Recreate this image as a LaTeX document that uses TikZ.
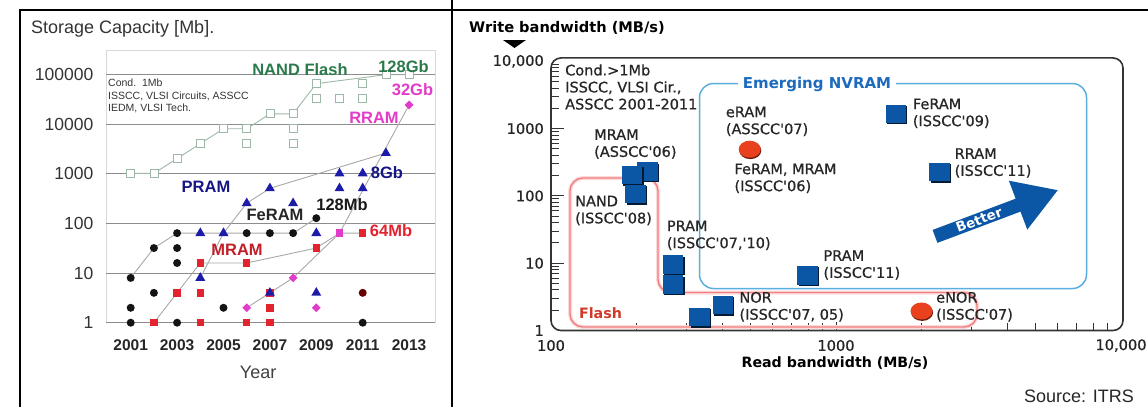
\documentclass[tikz,border=0pt]{standalone}
\usepackage{fontspec}
\newfontfamily\lsans{Liberation Sans}
\newfontfamily\dsans{DejaVu Sans}
\newfontfamily\dmed[FakeBold=0.7]{DejaVu Sans}
\usetikzlibrary{shapes.geometric, shadows, arrows.meta}

\definecolor{nandgreen}{HTML}{2B7A4B}
\definecolor{nandbox}{HTML}{9DB8A7}
\definecolor{trendgray}{HTML}{A8A8A8}
\definecolor{mramred}{HTML}{E3232E}
\definecolor{pramblue}{HTML}{1C1CA8}
\definecolor{rrampink}{HTML}{E23BC8}
\definecolor{gridgray}{HTML}{8C8C8C}
\definecolor{cellblue}{HTML}{0B57A6}
\definecolor{dotred}{HTML}{E9411E}
\definecolor{flashline}{HTML}{F07F80}
\definecolor{flashhalo}{HTML}{FCDADA}
\definecolor{nvramline}{HTML}{5BAEE0}
\definecolor{nvramtext}{HTML}{1D6BBF}
\definecolor{flashtext}{HTML}{CF3A2A}

\newcommand{\fsz}[2]{\fontsize{#1}{#2}\selectfont}
\newcommand{\sq}{\textquotesingle}

\tikzset{
  nand sq/.style={rectangle, draw=nandbox, fill=white, line width=0.8pt, minimum size=8pt, inner sep=0pt},
  feram dot/.style={circle, fill=black!92, minimum size=8pt, inner sep=0pt},
  mram sq/.style={rectangle, fill=mramred, minimum size=7.5pt, inner sep=0pt},
  pram tri/.style={regular polygon, regular polygon sides=3, fill=pramblue, minimum size=11.5pt, inner sep=0pt},
  rram dia/.style={diamond, fill=rrampink, minimum size=9pt, inner sep=0pt},
  tag/.style={inner sep=0pt, font=\lsans\bfseries\fsz{16.5}{19}},
  cell sq/.style={rectangle, fill=cellblue, minimum width=20.5pt, minimum height=18.5pt, inner sep=0pt,
    drop shadow={shadow xshift=1.4pt, shadow yshift=-1.4pt, fill=black!70!cellblue, opacity=1}},
  cell dot/.style={ellipse, fill=dotred, minimum width=22pt, minimum height=17pt, inner sep=0pt,
    drop shadow={shadow xshift=0.6pt, shadow yshift=-1.4pt, fill=dotred!45!black, opacity=1}},
  chip/.style={anchor=west, align=left, inner sep=0pt, text=black!85, font=\dmed\fsz{14.5}{17}},
  tick/.style={black!80, line width=1pt},
}

\begin{document}
\begin{tikzpicture}[x=1pt, y=-1pt]
  \useasboundingbox (0,0) rectangle (1148,407);

  % table rules
  \begin{scope}[line width=1.3pt]
    \draw (20,407) -- (20,10) -- (1148,10);
    \draw (452,0) -- (452,407);
  \end{scope}

  %% left panel: capacity per year
  \node[anchor=west, inner sep=0pt, text=black!80, font=\lsans\fsz{18}{20}] (captitle) at (31,29) {Storage Capacity [Mb].};

  \begin{scope}[shift={(130.7,322.7)}, x=23.2pt, y=49.6pt]
    \def\xL{-1.06}
    \def\xR{13.12}

    \draw[black!15, line width=0.8pt] (\xL,0) rectangle (\xR,5.5);
    \foreach \d in {0,...,5}
      \draw[gridgray, line width=1.1pt] (\xL,\d) -- (\xR,\d);

    \foreach \d/\val in {0/1, 1/10, 2/100, 3/1000, 4/10000, 5/100000}
      \node[anchor=east, inner sep=0pt, text=black!80, font=\lsans\fsz{17.5}{20}] (ylab\d) at (-1.6,\d) {\val};
    \foreach \i in {0,2,...,12}
      \node[inner sep=0pt, text=black!85, font=\lsans\bfseries\fsz{15.5}{18}] (xlab\i) at (\i,-0.45) {\the\numexpr2001+\i\relax};
    \node[inner sep=0pt, text=black!75, font=\lsans\fsz{18}{20}] (yearlab) at (5.49,-1.0) {Year};

    % trend lines
    \draw[nandbox, line width=0.9pt] (0,3.01) -- (1,3.01) -- (2,3.31) -- (3,3.61) -- (4,3.91) -- (5,3.91)
      -- (6,4.21) -- (7,4.21) -- (8,4.82) -- (11,5) -- (12,5);
    \begin{scope}[trendgray, line width=0.9pt]
      \draw (0,0.903) -- (1,1.505) -- (2,1.806) -- (7,1.806) -- (8,2.107);
      \draw (1,0) -- (2,0.602) -- (3,1.204) -- (5,1.204) -- (8,1.505) -- (9,1.806) -- (10,1.806);
      \draw (3,0.903) -- (4,1.806) -- (5,2.408) -- (6,2.709) -- (11,3.42);
      \draw (5,0.301) -- (7,0.903) -- (9,1.806) -- (12,4.39);
    \end{scope}

    % data points
    \foreach \i/\d [count=\n] in {0/3.01, 1/3.01, 2/3.31, 3/3.61, 4/3.91, 5/3.91, 5/3.61, 6/4.21, 7/4.21,
        7/3.91, 7/3.61, 8/4.82, 8/4.52, 9/4.52, 10/4.82, 10/4.52, 11/5, 12/5}
      \node[nand sq] (nand\n) at (\i,\d) {};
    \foreach \i/\d [count=\n] in {0/0, 0/0.301, 0/0.903, 1/0.602, 1/1.505, 2/0, 2/1.204, 2/1.505, 2/1.806,
        4/0.301, 5/1.806, 6/1.806, 7/1.806, 8/2.107, 10/0}
      \node[feram dot] (fe\n) at (\i,\d) {};
    \node[feram dot, fill=black!60!red] (fe16) at (10,0.602) {};
    \foreach \i/\d [count=\n] in {1/0, 2/0.602, 3/0, 3/0.602, 3/1.204, 5/0, 5/1.204, 6/0, 6/0.301, 6/0.602,
        8/1.505, 10/1.806}
      \node[mram sq] (mr\n) at (\i,\d) {};
    \foreach \i/\d [count=\n] in {3/0.903, 3/1.806, 4/1.806, 5/2.408, 6/2.709, 6/0.602, 7/2.408, 8/1.806,
        8/0.602, 9/2.709, 9/3.01, 10/2.709, 10/3.01, 11/3.42}
      \node[pram tri] (pr\n) at (\i,\d) {};
    \foreach \i/\d [count=\n] in {5/0.301, 7/0.903, 8/0.301, 12/4.39}
      \node[rram dia] (rr\n) at (\i,\d) {};
    \node[mram sq, fill=rrampink] (rr5) at (9,1.806) {};
  \end{scope}

  \node[anchor=north west, align=left, inner sep=0pt, text=black!80, font=\lsans\fsz{10.5}{11.5}]
    (cond) at (108,79) {Cond.~~1Mb\\[1.5pt]ISSCC, VLSI Circuits, ASSCC\\IEDM, VLSI Tech.};

  \node[tag, text=nandgreen] (nandtag) at (300,70) {NAND Flash};
  \node[tag, text=nandgreen] (gb128) at (403.5,67) {128Gb};
  \node[tag, text=rrampink] (gb32) at (412.5,90) {32Gb};
  \node[tag, text=rrampink] (rramtag) at (374,118) {RRAM};
  \node[tag, text=pramblue!80!black] (gb8) at (387,173) {8Gb};
  \node[tag, text=pramblue!80!black] (pramtag) at (206,187) {PRAM};
  \node[tag, text=black!85] (feramtag) at (275,215) {FeRAM};
  \node[tag, text=black!90] (mb128) at (342,205) {128Mb};
  \node[tag, text=mramred!85!black] (mramtag) at (237,250) {MRAM};
  \node[tag, text=mramred] (mb64) at (391,231) {64Mb};

  %% right panel: write vs read bandwidth
  \node[inner sep=0pt, font=\dsans\bfseries\fsz{14.6}{17}] (wtitle) at (567,28) {Write bandwidth (MB/s)};
  \fill (503,40) -- (526,40) -- (514.5,48) -- cycle;

  \begin{scope}[shift={(551,330.5)}, x=285pt, y=67.3pt]
    \draw[black!80, line width=1.6pt, rounded corners=10pt] (0,0) rectangle (2.007,4.05);
    \foreach \k in {0,...,3}{
      \foreach \m in {2,...,9}
        \draw[tick] (0,{\k+ln(\m)/ln(10)}) -- ++(8pt,0);
    }
    \foreach \k in {1,2,3}
      \draw[tick] (0,\k) -- ++(13pt,0);
    \foreach \k in {0,1}{
      \foreach \m in {2,...,9}
        \draw[tick] ({\k+ln(\m)/ln(10)},0) -- ++(0,8pt);
    }
    \draw[tick] (1,0) -- ++(0,9pt);

    \foreach \d/\val in {0/1, 1/10, 2/100, 3/1000, 4/{10,000}}
      \node[anchor=east, inner sep=0pt, text=black!85, font=\dmed\fsz{14.6}{17}] (wlab\d) at (-7pt,\d) {\val};
    \foreach \d/\val in {0/100, 1/1000, 2/{10,000}}
      \node[inner sep=0pt, text=black!85, font=\dmed\fsz{14.6}{17}] (rlab\d) at ([yshift=-15pt]\d,0) {\val};
  \end{scope}
  \node[inner sep=0pt, font=\dsans\bfseries\fsz{14.2}{17}] (rtitle) at (835,363.5) {Read bandwidth (MB/s)};

  \node[chip] (cond2) at (565,87) {Cond.>1Mb\\ISSCC, VLSI Cir.,\\ASSCC 2001-2011};

  % technology regions
  \draw[flashhalo, line width=4pt, rounded corners=13pt]
    (570,327) -- (570,178) -- (658,178) -- (658,292.5) -- (977,292.5) -- (977,327) -- cycle;
  \draw[flashline, line width=1.4pt, rounded corners=13pt]
    (570,327) -- (570,178) -- (658,178) -- (658,292.5) -- (977,292.5) -- (977,327) -- cycle;
  \node[inner sep=0pt, text=flashtext, font=\dsans\bfseries\fsz{14.3}{17}] (flashtag) at (600.5,313) {Flash};

  \draw[nvramline, line width=1.5pt, rounded corners=14pt] (699.5,83.5) rectangle (1086.5,288.5);
  \node[fill=white, inner xsep=5pt, inner ysep=1pt, text=nvramtext, font=\dsans\bfseries\fsz{15}{17}]
    (nvramtag) at (817,84) {Emerging NVRAM};

  % reported chips
  \node[cell sq] (mram06b) at (647.5,171.7) {};
  \node[cell sq] (mram06a) at (632.2,175) {};
  \node[cell sq] (nand08) at (635.5,194.2) {};
  \node[cell sq] (pram07) at (673,264.7) {};
  \node[cell sq] (pram10) at (673,284.7) {};
  \node[cell sq] (nor07) at (699.7,317) {};
  \node[cell sq] (nor05) at (722.8,305) {};
  \node[cell sq] (pram11) at (807.5,275.3) {};
  \node[cell sq] (feram09) at (895.8,113.8) {};
  \node[cell sq] (rram11) at (939.5,172.2) {};
  \node[cell dot] (eram07) at (749.7,149.2) {};
  \node[cell dot] (enor07) at (921.5,311) {};

  \node[chip] (mramlab) at (594,144) {MRAM\\(ASSCC\sq06)};
  \node[chip] (nandlab) at (575,210.5) {NAND\\(ISSCC\sq08)};
  \node[chip] (pramlab) at (666.7,235.3) {PRAM\\(ISSCC\sq07,\sq10)};
  \node[chip] (eramlab) at (725.7,121.3) {eRAM\\(ASSCC\sq07)};
  \node[chip] (feramlab) at (734.3,178.3) {FeRAM, MRAM\\(ISSCC\sq06)};
  \node[chip] (feram09lab) at (912.7,113.3) {FeRAM\\(ISSCC\sq09)};
  \node[chip] (rramlab) at (954.5,163) {RRAM\\(ISSCC\sq11)};
  \node[chip] (pram11lab) at (823.3,265) {PRAM\\(ISSCC\sq11)};
  \node[chip] (norlab) at (739.3,306.7) {NOR\\(ISSCC\sq07, 05)};
  \node[chip] (enorlab) at (936,306.7) {eNOR\\(ISSCC\sq07)};

  % direction of improvement
  \coordinate (bettail) at (935,236.4);
  \coordinate (bettip) at (1058.3,190);
  \draw[cellblue, line width=13.8pt, -{Triangle[length=43pt, width=49pt]}] (bettail) -- (bettip);
  \node[rotate=20.6, inner sep=0pt, text=white, font=\dsans\bfseries\fsz{13.5}{16}] (better) at (979,220) {Better};

  \node[inner sep=0pt, text=black!85, font=\lsans\fsz{18}{20}] (source) at (1079,396) {Source: ITRS};
\end{tikzpicture}
\end{document}
